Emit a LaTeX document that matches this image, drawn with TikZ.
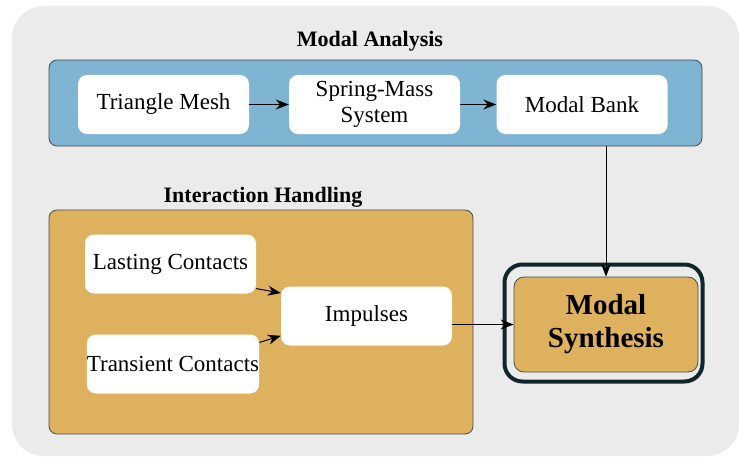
\documentclass[tikz,border=0pt]{standalone}
\usepackage{fontspec}
\setmainfont{Liberation Serif}
\usetikzlibrary{arrows.meta}
\definecolor{bggray}{RGB}{235,235,235}
\definecolor{analysisblue}{RGB}{127,180,211}
\definecolor{handlingorange}{RGB}{221,177,94}
\definecolor{synthring}{RGB}{15,38,45}
\tikzset{
  stage/.style={rectangle, rounded corners=9pt, fill=white, minimum width=171pt,
    minimum height=59pt, align=center, inner sep=0pt, font=\fontsize{23}{26}\selectfont},
  group/.style={rectangle, rounded corners=8pt, draw=black!70, line width=0.8pt, inner sep=0pt},
  title/.style={font=\fontsize{22}{26}\selectfont\bfseries},
  flow/.style={-{Stealth[length=13pt,width=10pt]}, line width=1pt}
}
\begin{document}
\begin{tikzpicture}[x=1pt,y=-1pt]
\useasboundingbox (0,0) rectangle (739,460);
\fill[bggray] (12,6) [rounded corners=32pt] rectangle (739,456);
% modal analysis
\node[group, fill=analysisblue, minimum width=653pt, minimum height=86pt] (analysis) at (375.5,103) {};
\node[title] (analysistitle) at (370,41) {Modal Analysis};
\node[stage] (mesh) at (163.5,104.5) {Triangle Mesh};
\node[stage] (spring) at (374.5,104.5) {Spring-Mass\\System};
\node[stage] (bank) at (582,104.5) {Modal Bank};
\draw[flow] (mesh) -- (spring);
\draw[flow] (spring) -- (bank);
% interaction handling
\node[group, fill=handlingorange, minimum width=424pt, minimum height=224pt] (handling) at (261,322) {};
\node[title] (handlingtitle) at (263,197) {Interaction Handling};
\node[stage] (lasting) at (170.5,264) {Lasting Contacts};
\node[stage] (transient) at (173,364) {Transient Contacts};
\node[stage] (impulses) at (366.5,316) {Impulses};
\draw[flow] (lasting.-16) -- (impulses.165);
\draw[flow] (transient.14) -- (impulses.-167);
% synthesis
\node[rectangle, rounded corners=18pt, draw=synthring, line width=4pt,
  minimum width=198pt, minimum height=117pt] (ring) at (603.5,323) {};
\node[group, rounded corners=10pt, fill=handlingorange, minimum width=184pt, minimum height=95pt,
  align=center, font=\fontsize{29}{33}\selectfont\bfseries] (synth) at (606,324.5) {Modal\\Synthesis};
\draw[flow] (analysis.south -| synth.north) -- (synth.north);
\draw[flow] (impulses.east |- synth.west) -- (synth.west);
\end{tikzpicture}
\end{document}
